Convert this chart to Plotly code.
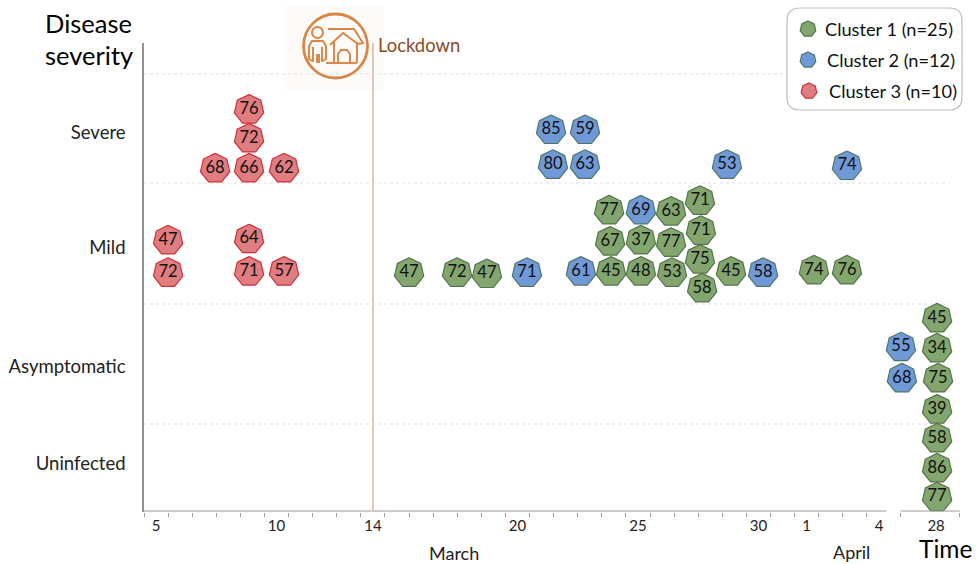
import math
import plotly.graph_objects as go

W, H = 976, 564

# Day positions on the broken time axis (March days; 32 = 1 April; 37.4 = 28 April group)
c1_day = [23.80, 26.37, 27.57, 23.84, 25.12, 26.37, 27.61, 27.57, 15.50, 17.49, 18.73, 23.88, 25.12, 26.41, 27.66, 28.86, 32.30, 33.67, 37.41, 37.41, 37.45, 37.41, 37.41, 37.41, 37.41]
c1_sev = [2.78, 2.77, 2.86, 2.52, 2.53, 2.51, 2.61, 2.37, 2.26, 2.26, 2.25, 2.27, 2.27, 2.26, 2.13, 2.27, 2.28, 2.28, 1.88, 1.63, 1.38, 1.12, 0.88, 0.63, 0.39]
c1_age = [77, 63, 71, 67, 37, 77, 71, 75, 47, 72, 47, 45, 48, 53, 58, 45, 74, 76, 45, 34, 75, 39, 58, 86, 77]

c2_day = [21.39, 22.80, 21.47, 22.80, 28.69, 33.67, 25.12, 20.39, 22.63, 30.19, 35.91, 35.95]
c2_sev = [3.45, 3.45, 3.16, 3.16, 3.16, 3.15, 2.78, 2.26, 2.27, 2.26, 1.64, 1.38]
c2_age = [85, 59, 80, 63, 53, 74, 69, 71, 61, 58, 55, 68]

c3_day = [8.86, 8.86, 7.45, 8.86, 10.31, 5.50, 8.86, 5.50, 8.86, 10.31]
c3_sev = [3.62, 3.38, 3.13, 3.13, 3.13, 2.53, 2.54, 2.26, 2.27, 2.27]
c3_age = [76, 72, 68, 66, 62, 47, 64, 72, 71, 57]

x_tickvals = [5, 10, 14, 20, 25, 30, 32, 35, 37.37]
x_ticktext = ["5", "10", "14", "20", "25", "30", "1", "4", "28"]
y_tickvals = [3.425, 2.467, 1.475, 0.667]
y_ticktext = ["Severe", "Mild", "Asymptomatic", "Uninfected"]
band_edges = [3.917, 3.008, 2.0, 1.0]
lockdown_day = 14
legend_names = ["Cluster 1 (n=25)", "Cluster 2 (n=12)", "Cluster 3 (n=10)"]

GREEN = ("#83a66f", "#557449")
BLUE = ("#7099d8", "#4d7768")
RED = ("#e07d81", "#cd3038")
FONT = "Lato"

PX_DAY = 24.1
PX_SEV = 120.0
R = 15.0


def hept(r=R):
    """Heptagon vertex offsets in pixels, point up."""
    return [(r * math.sin(2 * math.pi * k / 7), r * math.cos(2 * math.pi * k / 7)) for k in range(8)]


def poly_trace(days, sevs, colors, name):
    xs, ys = [], []
    for d, s in zip(days, sevs):
        for ox, oy in hept():
            xs.append(d + ox / PX_DAY)
            ys.append(s + oy / PX_SEV)
        xs.append(None)
        ys.append(None)
    return go.Scatter(x=xs, y=ys, mode="lines", fill="toself", fillcolor=colors[0],
                      line=dict(color=colors[1], width=1.2), name=name, hoverinfo="skip", showlegend=False)


def px(x):
    return x / W


def py(y):
    return 1 - y / H


fig = go.Figure()
for days, sevs, ages, colors, name in [
    (c3_day, c3_sev, c3_age, RED, legend_names[2]),
    (c2_day, c2_sev, c2_age, BLUE, legend_names[1]),
    (c1_day, c1_sev, c1_age, GREEN, legend_names[0]),
]:
    fig.add_trace(poly_trace(days, sevs, colors, name))
    fig.add_trace(go.Scatter(x=days, y=sevs, mode="text", text=[str(a) for a in ages],
                             textposition="middle center",
                             textfont=dict(family=FONT, size=16.5, color="#111111"),
                             name=name, showlegend=False))

shapes = []
# icon background
shapes.append(dict(type="rect", xref="paper", yref="paper", x0=px(284), x1=px(384), y0=py(90), y1=py(6), layer="below",
                   line=dict(width=0), fillcolor="#fdfbf9"))
# band separators
for b in band_edges:
    shapes.append(dict(type="line", xref="x", yref="y", x0=4.5, x1=37.9, y0=b, y1=b, layer="below",
                       line=dict(color="#dddddd", width=1, dash="dot")))
# lockdown line
shapes.append(dict(type="line", xref="x", yref="paper", x0=lockdown_day, x1=lockdown_day, y0=py(510), y1=py(43),
                   layer="below", line=dict(color="#c9a491", width=1.2)))
# broken time axis
for x0, x1 in [(4.5, 35.31), (35.9, 38.35)]:
    shapes.append(dict(type="line", xref="x", yref="paper", x0=x0, x1=x1, y0=py(511), y1=py(511),
                       line=dict(color="#999999", width=1.2)))

ICON = "#d98545"
shapes.append(dict(type="circle", xref="paper", yref="paper", x0=px(303.5), x1=px(367.5), y0=py(78), y1=py(14),
                   line=dict(color=ICON, width=2.8)))
shapes.append(dict(type="circle", xref="paper", yref="paper", x0=px(312), x1=px(323), y0=py(38), y1=py(27),
                   line=dict(color=ICON, width=2)))


def path(points, close=False):
    s = " ".join(("M" if i == 0 else "L") + f" {px(x):.5f} {py(y):.5f}" for i, (x, y) in enumerate(points))
    return s + (" Z" if close else "")


for pts in [
    [(312, 61), (309, 59), (309, 46), (312, 41), (323, 41), (326, 46), (326, 59), (323, 61)],
    [(313, 47), (313, 62)], [(322, 47), (322, 62)],
    [(317, 54), (317, 63)], [(319, 54), (319, 63)],
    [(328, 29), (354, 29), (363, 43), (358, 44), (343, 33), (330, 45)],
    [(326, 63), (357, 63)], [(334, 42), (334, 63)], [(357, 42), (357, 63)],
    [(338, 63), (338, 54), (341, 50), (347, 50), (350, 54), (350, 63)],
]:
    shapes.append(dict(type="path", xref="paper", yref="paper", path=path(pts), line=dict(color=ICON, width=1.9)))

# legend box
lx0, lx1, ly0, ly1, rr = 787, 962, 8, 110, 13
box = (f"M {px(lx0 + rr)} {py(ly0)} L {px(lx1 - rr)} {py(ly0)} Q {px(lx1)} {py(ly0)} {px(lx1)} {py(ly0 + rr)} "
       f"L {px(lx1)} {py(ly1 - rr)} Q {px(lx1)} {py(ly1)} {px(lx1 - rr)} {py(ly1)} "
       f"L {px(lx0 + rr)} {py(ly1)} Q {px(lx0)} {py(ly1)} {px(lx0)} {py(ly1 - rr)} "
       f"L {px(lx0)} {py(ly0 + rr)} Q {px(lx0)} {py(ly0)} {px(lx0 + rr)} {py(ly0)} Z")
shapes.append(dict(type="path", xref="paper", yref="paper", path=box, fillcolor="white",
                   line=dict(color="#bdbdbd", width=1.2)))
annotations = []
for (sx, sy, tx), colors, name in zip([(808, 29, 824), (808, 60, 826), (809, 91, 828)], [GREEN, BLUE, RED], legend_names):
    pts = [(sx + 8 * math.sin(2 * math.pi * k / 7), sy - 8 * math.cos(2 * math.pi * k / 7)) for k in range(7)]
    shapes.append(dict(type="path", xref="paper", yref="paper", path=path(pts, True), fillcolor=colors[0],
                       line=dict(color=colors[1], width=1.2)))
    annotations.append(dict(x=px(tx - 1), y=py(sy), xref="paper", yref="paper", text=name, showarrow=False,
                            xanchor="left", yanchor="middle", font=dict(family=FONT, size=18.2, color="#111111")))

for text, x, y, size, color in [
    ("Disease", 88, 23, 25.5, "#000000"),
    ("severity", 89, 55, 25.5, "#000000"),
    ("Time", 945, 548, 24.5, "#000000"),
    ("March", 454, 553, 18, "#222222"),
    ("April", 851, 552, 18, "#222222"),
    ("Lockdown", 419, 45, 18.4, "#8a4a1f"),
]:
    annotations.append(dict(x=px(x), y=py(y), xref="paper", yref="paper", text=text, showarrow=False,
                            xanchor="center", yanchor="middle", font=dict(family=FONT, size=size, color=color)))

minor_ticks = [4.5 + k for k in range(31)] + [35.9, 38.35]

fig.update_layout(
    width=W, height=H, margin=dict(l=0, r=0, t=0, b=0), plot_bgcolor="white", paper_bgcolor="white",
    showlegend=False, shapes=shapes, annotations=annotations,
    font=dict(family=FONT),
    xaxis=dict(domain=[144 / W, 1], range=[4.5, 5 + (976 - 156) / PX_DAY], showgrid=False, zeroline=False,
               showline=False, tickmode="array", tickvals=x_tickvals, ticktext=x_ticktext, ticks="",
               ticklabelstandoff=3, tickfont=dict(family=FONT, size=15, color="#222222"),
               minor=dict(tickmode="array", tickvals=minor_ticks, ticks="outside", ticklen=4,
                          tickcolor="#999999", tickwidth=1, showgrid=False)),
    yaxis=dict(domain=[1 - 512 / H, 1 - 43 / H], range=[1 + (424 - 512) / PX_SEV, 1 + (424 - 43) / PX_SEV],
               showgrid=False, zeroline=False, showline=True, linecolor="#909090", linewidth=1.5,
               tickmode="array", tickvals=y_tickvals, ticktext=y_ticktext, ticks="",
               ticklabelstandoff=13, tickfont=dict(family=FONT, size=18.5, color="#222222")),
)
fig.write_html("out.html", config={"displayModeBar": False},
               post_script="document.body.style.margin='0';document.body.style.overflow='hidden';")
